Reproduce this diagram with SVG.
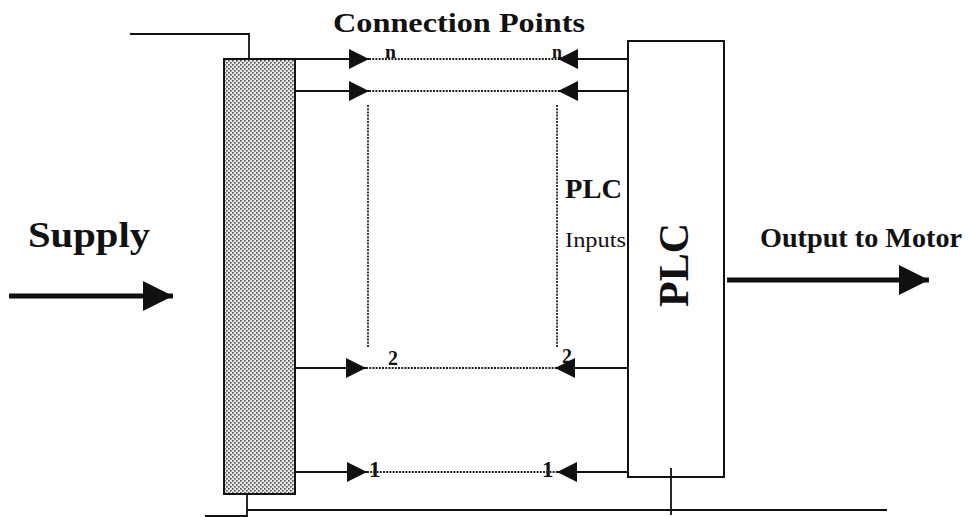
<svg xmlns="http://www.w3.org/2000/svg" width="970" height="517" viewBox="0 0 970 517">
<style>
.wire{fill:none;stroke:#111;stroke-width:1.8}
.dot{fill:none;stroke:#222;stroke-width:1.8;stroke-dasharray:2 1.2}
.conn{stroke:#111;stroke-width:2}
.big{stroke:#111;stroke-width:5}
.t{font-family:"Liberation Serif","Times New Roman",serif;fill:#111}
.b{font-weight:bold}
</style>
<defs>
<pattern id="stip" width="4" height="4" patternUnits="userSpaceOnUse">
<rect width="4" height="4" fill="#e6e6e6"/>
<rect x="0" y="0" width="1.6" height="1.6" fill="#505050"/>
<rect x="2" y="2" width="1.6" height="1.6" fill="#505050"/>
</pattern>
<marker id="ah" markerUnits="userSpaceOnUse" viewBox="0 0 20 20" markerWidth="20" markerHeight="20" refX="20" refY="10" orient="auto">
<path d="M0,0 L20,10 L0,20 Z" fill="#111"/>
</marker>
<marker id="bh" markerUnits="userSpaceOnUse" viewBox="0 0 30 30" markerWidth="30" markerHeight="30" refX="30" refY="15" orient="auto">
<path d="M0,0 L30,15 L0,30 Z" fill="#111"/>
</marker>
</defs>

<g id="title">
<text class="t b" x="333" y="32" font-size="27" textLength="252" lengthAdjust="spacingAndGlyphs">Connection  Points</text>
</g>

<g id="terminal-block">
<rect x="224" y="59" width="71" height="435" fill="url(#stip)" stroke="#111" stroke-width="2"/>
</g>

<g id="plc">
<rect x="628" y="41" width="96" height="436" fill="#fff" stroke="#111" stroke-width="2"/>
<text class="t b" font-size="42" text-anchor="middle" transform="translate(688,265) rotate(-90)" textLength="84" lengthAdjust="spacingAndGlyphs">PLC</text>
</g>

<g id="supply">
<text class="t b" x="28" y="247" font-size="36" textLength="122" lengthAdjust="spacingAndGlyphs">Supply</text>
</g>

<g id="output">
<text class="t b" x="760" y="247" font-size="28" textLength="202" lengthAdjust="spacingAndGlyphs">Output to Motor</text>
</g>

<g id="plc-inputs">
<text class="t b" x="565" y="198" font-size="28" textLength="57" lengthAdjust="spacingAndGlyphs">PLC</text>
<text class="t" x="565" y="247" font-size="21" textLength="61" lengthAdjust="spacingAndGlyphs">Inputs</text>
</g>

<g id="labels">
<text class="t b" x="385" y="58" font-size="19" textLength="11" lengthAdjust="spacingAndGlyphs">n</text>
<text class="t b" x="552" y="58" font-size="19" textLength="10" lengthAdjust="spacingAndGlyphs">n</text>
<text class="t b" x="388" y="365" font-size="20">2</text>
<text class="t b" x="562" y="363" font-size="20">2</text>
<text class="t b" x="369" y="477" font-size="23">1</text>
<text class="t b" x="542" y="477" font-size="23">1</text>
</g>

<g id="connectors">
<polyline class="wire" points="130,34 249,34 249,59"/>
<polyline class="wire" points="205,516 247,516 247,494"/>
<line class="wire" x1="247" y1="510" x2="887" y2="510"/>
<line class="wire" x1="671" y1="468" x2="671" y2="515"/>

<line class="conn" x1="295" y1="59" x2="369" y2="59" marker-end="url(#ah)"/>
<line class="dot" x1="369" y1="59" x2="558" y2="59"/>
<line class="conn" x1="628" y1="59" x2="558" y2="59" marker-end="url(#ah)"/>

<line class="conn" x1="295" y1="91" x2="369" y2="91" marker-end="url(#ah)"/>
<line class="dot" x1="369" y1="91" x2="558" y2="91"/>
<line class="conn" x1="628" y1="91" x2="558" y2="91" marker-end="url(#ah)"/>

<line class="conn" x1="295" y1="368" x2="366" y2="368" marker-end="url(#ah)"/>
<line class="dot" x1="366" y1="368" x2="555" y2="368"/>
<line class="conn" x1="628" y1="368" x2="555" y2="368" marker-end="url(#ah)"/>

<line class="conn" x1="295" y1="472" x2="367" y2="472" marker-end="url(#ah)"/>
<line class="dot" x1="367" y1="472" x2="557" y2="472"/>
<line class="conn" x1="628" y1="472" x2="557" y2="472" marker-end="url(#ah)"/>

<line class="dot" x1="368" y1="105" x2="368" y2="348"/>
<line class="dot" x1="557" y1="105" x2="557" y2="348"/>

<line class="big" x1="9" y1="296" x2="173" y2="296" marker-end="url(#bh)"/>
<line class="big" x1="727" y1="280" x2="929" y2="280" marker-end="url(#bh)"/>
</g>
</svg>
